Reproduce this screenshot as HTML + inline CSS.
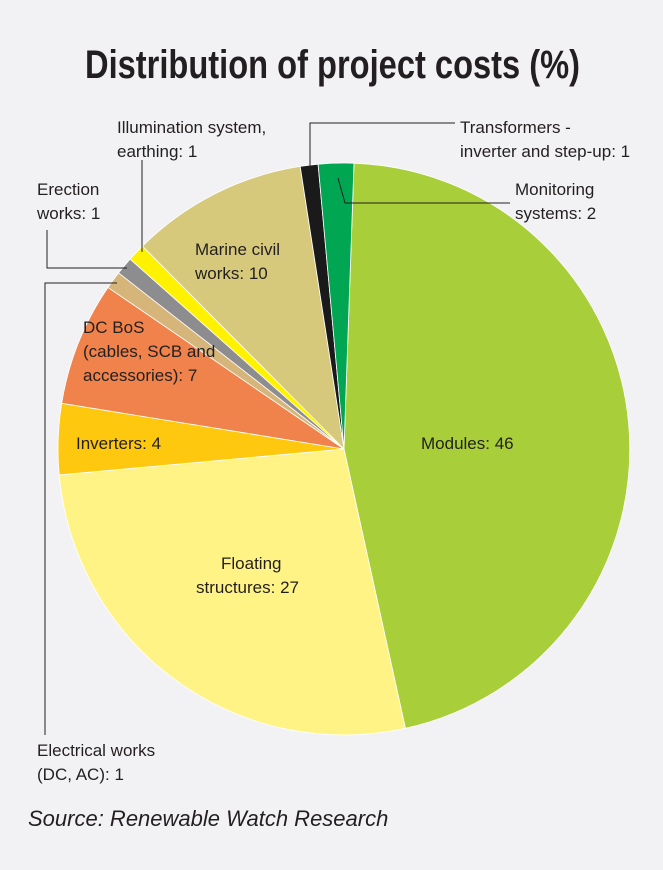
<!DOCTYPE html>
<html><head><meta charset="utf-8"><style>
html,body{margin:0;padding:0;background:#f2f2f4;}
svg{display:block;}
text{font-family:"Liberation Sans",sans-serif;fill:#231f20;}
</style></head><body>
<svg id="s" width="663" height="870" viewBox="0 0 663 870">
<rect width="663" height="870" fill="#f2f2f4"/>
<text x="85" y="78" font-size="40" font-weight="bold" textLength="495" lengthAdjust="spacingAndGlyphs">Distribution of project costs (%)</text>
<g id="pie"></g>
<g stroke="#231f20" stroke-width="1" fill="none">
<polyline points="310,170 310,123 455,123"/>
<polyline points="338,178 345,203 510,203"/>
<polyline points="142,160 142,252"/>
<polyline points="47,230 47,268 127,268"/>
<polyline points="117,283 45,283 45,735"/>
</g>
<g font-size="17">
<text x="460" y="133">Transformers -</text>
<text x="460" y="157">inverter and step-up: 1</text>
<text x="515" y="195">Monitoring</text>
<text x="515" y="219">systems: 2</text>
<text x="117" y="133">Illumination system,</text>
<text x="117" y="157">earthing: 1</text>
<text x="37" y="195">Erection</text>
<text x="37" y="219">works: 1</text>
<text x="195" y="255">Marine civil</text>
<text x="195" y="279">works: 10</text>
<text x="83" y="333">DC BoS</text>
<text x="83" y="357">(cables, SCB and</text>
<text x="83" y="381">accessories): 7</text>
<text x="76" y="449">Inverters: 4</text>
<text x="421" y="449">Modules: 46</text>
<text x="221" y="569">Floating</text>
<text x="196" y="593">structures: 27</text>
<text x="37" y="756">Electrical works</text>
<text x="37" y="780">(DC, AC): 1</text>
</g>
<text x="28" y="826" font-size="22" font-style="italic">Source: Renewable Watch Research</text>
</svg>
<script>
var cx=344,cy=449,r=286;
var d=[[46,"#a8cf3a"],[27,"#fff386"],[4,"#fdc80e"],[7,"#f0834b"],[1,"#d6b57a"],[1,"#8d8d8f"],[1,"#fff200"],[10,"#d7c97b"],[1,"#1a1a1a"],[2,"#00a651"]];
var a=2,g=document.getElementById("pie"),h="";
function p(t){var q=t*Math.PI/180;return (cx+r*Math.sin(q)).toFixed(1)+","+(cy-r*Math.cos(q)).toFixed(1);}
d.forEach(function(e){var b=a+e[0]/100*360;h+='<path d="M'+cx+','+cy+' L'+p(a)+' A'+r+','+r+' 0 '+(b-a>180?1:0)+',1 '+p(b)+' Z" fill="'+e[1]+'" stroke="#fff" stroke-width="0.8"/>';a=b;});
g.innerHTML=h;
</script>
</body></html>
